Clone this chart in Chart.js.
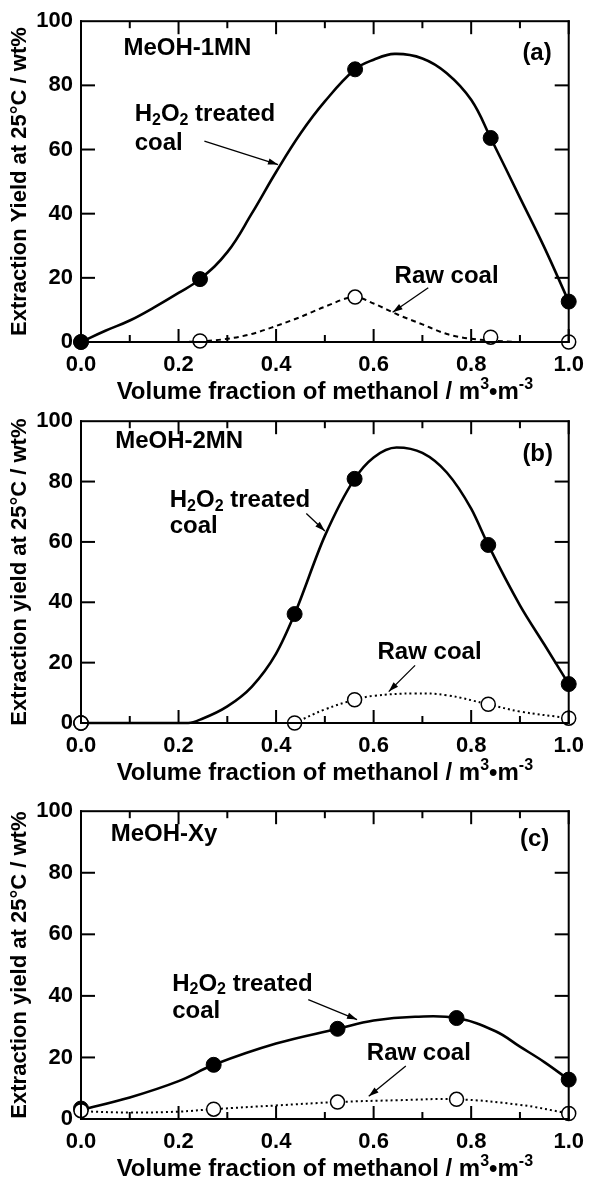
<!DOCTYPE html>
<html>
<head>
<meta charset="utf-8">
<script src="https://cdn.jsdelivr.net/npm/chart.js@4.4.0/dist/chart.umd.min.js"></script>
<style>
  body { margin: 0; background: #fff; width: 594px; height: 1184px; overflow: hidden; }
  canvas { position: absolute; left: 0; }
</style>
</head>
<body>
<canvas id="ca" width="594" height="400" style="top:0px"></canvas>
<canvas id="cb" width="594" height="390" style="top:400px"></canvas>
<canvas id="cc" width="594" height="394" style="top:790px"></canvas>
<script>
// axis ticks
const xTicks = [0, 0.2, 0.4, 0.6, 0.8, 1.0];
const xMinor = [0.1, 0.3, 0.5, 0.7, 0.9];
const yTicks = [0, 20, 40, 60, 80, 100];

// (a) MeOH-1MN
const aTreatedX = [0, 0.244, 0.562, 0.84, 1.0];
const aTreatedY = [0, 19.6, 85, 63.6, 12.6];
const aRawX = [0, 0.244, 0.562, 0.84, 1.0];
const aRawY = [0, 0.3, 14, 1.5, 0];
const aTreatedCurveX = [0, 0.05, 0.1, 0.15, 0.2, 0.244, 0.3, 0.35, 0.4, 0.45, 0.5, 0.562, 0.6, 0.643, 0.7, 0.75, 0.8, 0.84, 0.9, 0.95, 1.0];
const aTreatedCurveY = [0, 3.5, 6.7, 10.8, 15.3, 19.6, 28, 40, 53, 65, 75, 85, 88, 89.8, 88.4, 83.8, 75.5, 63.6, 45, 29.5, 12.6];
const aRawCurveX = [0, 0.1, 0.2, 0.244, 0.3, 0.35, 0.4, 0.45, 0.5, 0.562, 0.6, 0.65, 0.7, 0.75, 0.8, 0.84, 0.9, 1.0];
const aRawCurveY = [0, 0, 0, 0.2, 1, 2.5, 5, 7.8, 11, 14, 12, 8.5, 5.5, 2.5, 1, 0.5, 0, 0];

// (b) MeOH-2MN
const bTreatedX = [0, 0.438, 0.561, 0.835, 1.0];
const bTreatedY = [0, 36.1, 80.9, 59, 12.9];
const bRawX = [0, 0.438, 0.561, 0.835, 1.0];
const bRawY = [0, 0, 7.7, 6.2, 1.6];
const bTreatedCurveX = [0, 0.1, 0.2, 0.22, 0.25, 0.3, 0.35, 0.4, 0.438, 0.5, 0.561, 0.6, 0.647, 0.7, 0.75, 0.8, 0.835, 0.9, 0.95, 1.0];
const bTreatedCurveY = [0, 0, 0, 0, 1.5, 5.5, 12, 23, 36.1, 62, 80.9, 88, 91.3, 89.5, 83, 71, 59, 39, 26, 12.9];
const bRawCurveX = [0.438, 0.5, 0.561, 0.6, 0.685, 0.75, 0.835, 0.9, 1.0];
const bRawCurveY = [0, 4.5, 7.7, 9, 9.8, 9.2, 6.2, 3.8, 1.6];

// (c) MeOH-Xy
const cTreatedX = [0, 0.272, 0.526, 0.77, 1.0];
const cTreatedY = [3.4, 17.6, 29.3, 32.8, 12.8];
const cRawX = [0, 0.272, 0.526, 0.77, 1.0];
const cRawY = [2.7, 3.2, 5.5, 6.4, 1.8];
const cTreatedCurveX = [0, 0.1, 0.2, 0.272, 0.4, 0.526, 0.6, 0.685, 0.77, 0.85, 0.9, 0.95, 1.0];
const cTreatedCurveY = [3, 7, 12.3, 17.6, 24.5, 29.3, 32, 33.2, 32.8, 28.5, 23.5, 18.5, 12.8];
const cRawCurveX = [0, 0.1, 0.2, 0.272, 0.4, 0.526, 0.65, 0.77, 0.9, 1.0];
const cRawCurveY = [2.5, 2.1, 2.4, 3.2, 4.4, 5.5, 6.1, 6.4, 4.6, 1.8];

const FONT = '"Liberation Sans", Arial, Helvetica, sans-serif';
const bold = size => 'bold ' + size + 'px ' + FONT;

function pts(xs, ys) {
  return xs.map((x, i) => ({ x: x, y: ys[i] }));
}

// text with sub/superscripts, parts: [text, shift] shift>0 = down
function drawParts(ctx, parts, x, y, size) {
  let cx = x;
  parts.forEach(([t, shift]) => {
    ctx.font = bold(shift ? Math.round(size * 0.68) : size);
    ctx.fillText(t, cx, y + (shift || 0));
    cx += ctx.measureText(t).width;
  });
  return cx - x;
}

function partsWidth(ctx, parts, size) {
  let w = 0;
  parts.forEach(([t, shift]) => {
    ctx.font = bold(shift ? Math.round(size * 0.68) : size);
    w += ctx.measureText(t).width;
  });
  return w;
}

function arrow(ctx, x1, y1, x2, y2) {
  ctx.beginPath();
  ctx.moveTo(x1, y1);
  ctx.lineTo(x2, y2);
  ctx.lineWidth = 1.3;
  ctx.stroke();
  const a = Math.atan2(y2 - y1, x2 - x1);
  ctx.beginPath();
  ctx.moveTo(x2, y2);
  ctx.lineTo(x2 - 10 * Math.cos(a) + 3.2 * Math.sin(a), y2 - 10 * Math.sin(a) - 3.2 * Math.cos(a));
  ctx.lineTo(x2 - 10 * Math.cos(a) - 3.2 * Math.sin(a), y2 - 10 * Math.sin(a) + 3.2 * Math.cos(a));
  ctx.closePath();
  ctx.fill();
}

function makePanel(id, p) {
  const canvas = document.getElementById(id);
  const H = canvas.height;

  const panelPlugin = {
    id: 'panelText',
    afterDraw(chart) {
      const ctx = chart.ctx;
      const a = chart.chartArea;
      const xs = chart.scales.x, ys = chart.scales.y;

      ctx.save();
      ctx.fillStyle = '#000';
      ctx.strokeStyle = '#000';
      ctx.textBaseline = 'middle';

      // y title
      ctx.save();
      ctx.translate(20, (a.top + a.bottom) / 2);
      ctx.rotate(-Math.PI / 2);
      ctx.textAlign = 'center';
      ctx.font = bold(22);
      ctx.fillText(p.yTitle, 0, 0);
      ctx.restore();

      // x title with superscripts
      ctx.textAlign = 'left';
      ctx.textBaseline = 'alphabetic';
      const xt = [['Volume fraction of methanol / m', 0], ['3', -10], ['\u2022m', 0], ['-3', -10]];
      const w = partsWidth(ctx, xt, 24);
      drawParts(ctx, xt, (a.left + a.right) / 2 - w / 2, a.bottom + 57, 24);

      // annotations
      ctx.textBaseline = 'middle';
      p.labels.forEach(l => {
        drawParts(ctx, l.parts, xs.getPixelForValue(l.x), ys.getPixelForValue(l.y), 24);
      });
      p.arrows.forEach(r => {
        arrow(ctx, xs.getPixelForValue(r[0]), ys.getPixelForValue(r[1]),
          xs.getPixelForValue(r[2]), ys.getPixelForValue(r[3]));
      });
      ctx.restore();

      // box and inward ticks, drawn last
      ctx.save();
      ctx.fillStyle = '#000';
      ctx.fillRect(a.left - 1, a.top - 1, a.right - a.left + 2, 2);
      ctx.fillRect(a.left - 1, a.bottom - 1, a.right - a.left + 2, 2);
      ctx.fillRect(a.left - 1, a.top - 1, 2, a.bottom - a.top + 2);
      ctx.fillRect(a.right - 1, a.top - 1, 2, a.bottom - a.top + 2);
      xTicks.concat(xMinor).forEach(v => {
        const px = xs.getPixelForValue(v);
        const len = xMinor.indexOf(v) >= 0 ? 7 : 13;
        ctx.fillRect(px - 1, a.bottom - len, 2, len);
        ctx.fillRect(px - 1, a.top, 2, len);
      });
      yTicks.slice(1, -1).forEach(v => {
        const py = ys.getPixelForValue(v);
        ctx.fillRect(a.left, py - 1, 14, 2);
        ctx.fillRect(a.right - 14, py - 1, 14, 2);
      });
      ctx.restore();
    }
  };

  new Chart(canvas, {
    type: 'scatter',
    data: {
      datasets: [
        {
          data: pts(p.rawX, p.rawY), showLine: false, clip: false,
          pointRadius: 7, pointBackgroundColor: '#fff', pointBorderColor: '#000', pointBorderWidth: 1.5,
          order: p.openOnTop ? 0 : 1
        },
        {
          data: pts(p.trtX, p.trtY), showLine: false, clip: false,
          pointRadius: 7.5, pointBackgroundColor: '#000', pointBorderColor: '#000', pointBorderWidth: 1,
          order: p.openOnTop ? 1 : 0
        },
        {
          data: pts(p.tcX, p.tcY), showLine: true, clip: false, pointRadius: 0,
          borderColor: '#000', borderWidth: 2.6,
          cubicInterpolationMode: p.tcMode, tension: 0.4, order: 3
        },
        {
          data: pts(p.rcX, p.rcY), showLine: true, clip: false, pointRadius: 0,
          borderColor: '#000', borderWidth: 2, borderDash: p.dash,
          cubicInterpolationMode: p.rcMode, tension: 0.4, order: 2
        }
      ]
    },
    options: {
      responsive: false,
      animation: false,
      events: [],
      layout: { padding: { top: p.top, right: 22, left: 0, bottom: 0 } },
      plugins: { legend: { display: false }, tooltip: { enabled: false } },
      scales: {
        x: {
          type: 'linear', min: 0, max: 1,
          border: { display: false },
          grid: { display: false, drawTicks: false },
          afterBuildTicks: s => { s.ticks = xTicks.map(v => ({ value: v })); },
          afterFit: s => { s.height = H - p.bottom; },
          ticks: {
            padding: 10, color: '#000', maxRotation: 0, autoSkip: false,
            font: { family: FONT, size: 22, weight: 'bold' },
            callback: v => Number(v).toFixed(1)
          }
        },
        y: {
          type: 'linear', min: 0, max: 100,
          border: { display: false },
          grid: { display: false, drawTicks: false },
          afterBuildTicks: s => { s.ticks = yTicks.map(v => ({ value: v })); },
          afterFit: s => { s.width = 81; },
          ticks: {
            padding: 8, color: '#000',
            font: { family: FONT, size: 22, weight: 'bold' }
          }
        }
      }
    },
    plugins: [panelPlugin]
  });
}

const H2O2 = [['H', 0], ['2', 6], ['O', 0], ['2', 6], [' treated', 0]];

makePanel('ca', {
  top: 20, bottom: 342,
  yTitle: 'Extraction Yield at 25\u00B0C / wt%',
  trtX: aTreatedX, trtY: aTreatedY, rawX: aRawX, rawY: aRawY,
  tcX: aTreatedCurveX, tcY: aTreatedCurveY, rcX: aRawCurveX, rcY: aRawCurveY,
  tcMode: 'default', rcMode: 'monotone',
  dash: [5, 4], openOnTop: false,
  labels: [
    { x: 0.087, y: 91.5, parts: [['MeOH-1MN', 0]] },
    { x: 0.905, y: 90, parts: [['(a)', 0]] },
    { x: 0.11, y: 70.8, parts: H2O2 },
    { x: 0.11, y: 62, parts: [['coal', 0]] },
    { x: 0.643, y: 20.4, parts: [['Raw coal', 0]] }
  ],
  arrows: [[0.253, 62.6, 0.404, 55.3], [0.712, 16.9, 0.639, 9.3]]
});

makePanel('cb', {
  top: 18, bottom: 323,
  yTitle: 'Extraction yield at 25\u00B0C / wt%',
  trtX: bTreatedX, trtY: bTreatedY, rawX: bRawX, rawY: bRawY,
  tcX: bTreatedCurveX, tcY: bTreatedCurveY, rcX: bRawCurveX, rcY: bRawCurveY,
  tcMode: 'monotone', rcMode: 'default',
  dash: [2, 3], openOnTop: true,
  labels: [
    { x: 0.07, y: 93.4, parts: [['MeOH-2MN', 0]] },
    { x: 0.905, y: 89, parts: [['(b)', 0]] },
    { x: 0.182, y: 73.8, parts: H2O2 },
    { x: 0.182, y: 65, parts: [['coal', 0]] },
    { x: 0.608, y: 23.5, parts: [['Raw coal', 0]] }
  ],
  arrows: [[0.462, 69.4, 0.50, 63.6], [0.685, 19.1, 0.631, 10.4]]
});

makePanel('cc', {
  top: 17, bottom: 329,
  yTitle: 'Extraction yield at 25\u00B0C / wt%',
  trtX: cTreatedX, trtY: cTreatedY, rawX: cRawX, rawY: cRawY,
  tcX: cTreatedCurveX, tcY: cTreatedCurveY, rcX: cRawCurveX, rcY: cRawCurveY,
  tcMode: 'default', rcMode: 'default',
  dash: [2, 3], openOnTop: true,
  labels: [
    { x: 0.061, y: 92.6, parts: [['MeOH-Xy', 0]] },
    { x: 0.9, y: 91, parts: [['(c)', 0]] },
    { x: 0.187, y: 43.9, parts: H2O2 },
    { x: 0.187, y: 35.1, parts: [['coal', 0]] },
    { x: 0.586, y: 21.3, parts: [['Raw coal', 0]] }
  ],
  arrows: [[0.466, 38.8, 0.566, 32.3], [0.666, 17.2, 0.59, 7.4]]
});
</script>
</body>
</html>
